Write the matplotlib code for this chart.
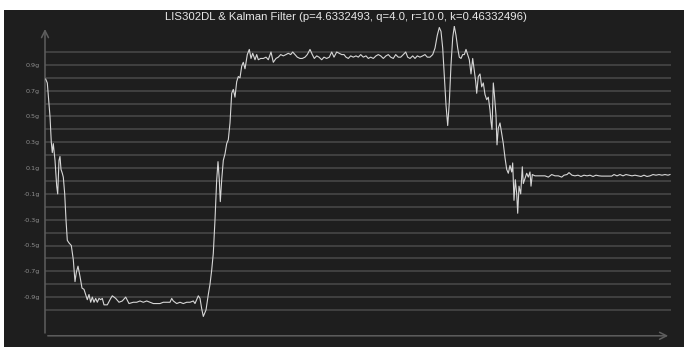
import matplotlib
matplotlib.use('Agg')
import matplotlib.pyplot as plt
from matplotlib.patches import Rectangle

# sample index and filtered accelerometer reading (g)
t = [0.7, 2.3, 5.0, 6.3, 7.3, 8.3, 10.0, 11.7, 12.7, 14.0, 15.0, 16.0, 17.3, 18.3,
     19.7, 21.0, 22.3, 24.0, 26.3, 28.3, 30.0, 31.3, 33.0, 35.0, 37.0, 39.0, 40.7,
     42.3, 44.0, 45.7, 47.3, 49.0, 50.7, 52.3, 54.0, 55.7, 57.3, 59.0, 62.3, 65.7,
     67.3, 70.7, 74.0, 77.3, 80.7, 84.0, 88.3, 91.7, 95.0, 98.3, 101.7, 105.0,
     108.3, 111.7, 115.0, 118.3, 121.7, 125.0, 126.7, 128.3, 131.7, 135.0, 138.3,
     141.7, 145.0, 148.3, 150.0, 153.3, 155.0, 156.7, 158.3, 161.0, 163.3, 165.0,
     166.7, 168.3, 170.0, 171.7, 173.0, 174.3, 175.3, 176.7, 178.3, 180.0, 181.7,
     183.3, 185.0, 186.7, 188.3, 190.0, 191.7, 193.3, 195.0, 196.7, 198.3, 200.0,
     202.3, 204.3, 206.0, 207.7, 210.0, 211.7, 213.3, 215.7, 218.3, 221.0, 223.3,
     226.0, 228.3, 231.0, 233.3, 235.7, 238.3, 241.0, 243.3, 245.7, 247.7, 250.0,
     252.3, 255.0, 257.3, 260.0, 262.3, 265.0, 267.3, 269.3, 271.7, 274.0, 276.7,
     279.0, 281.7, 284.3, 286.7, 289.0, 291.7, 294.3, 296.7, 299.0, 301.0, 303.3,
     305.7, 308.3, 311.0, 313.3, 315.7, 318.3, 321.0, 323.3, 325.7, 328.3, 331.0,
     333.3, 335.7, 338.3, 341.0, 343.3, 345.7, 348.3, 350.7, 353.3, 355.7, 358.3,
     360.7, 362.7, 365.0, 367.7, 370.0, 372.3, 375.0, 377.7, 380.0, 382.3, 385.0,
     387.7, 390.0, 392.3, 394.3, 396.0, 397.7, 399.3, 401.0, 402.7, 404.3, 406.0,
     407.7, 409.3, 411.0, 412.7, 414.3, 416.0, 417.7, 419.3, 421.0, 422.7, 424.3,
     426.0, 427.7, 429.0, 430.7, 431.7, 433.3, 435.0, 436.7, 438.3, 440.0, 441.7,
     443.3, 445.0, 446.0, 447.0, 448.3, 449.3, 451.0, 452.0, 453.3, 455.0, 456.7,
     458.3, 460.0, 461.7, 463.3, 465.0, 466.7, 467.7, 469.0, 470.3, 471.7, 472.7,
     474.0, 475.7, 477.3, 478.3, 480.0, 481.7, 483.3, 485.0, 486.0, 487.3, 490.0,
     493.3, 496.7, 500.0, 503.3, 506.7, 510.0, 513.3, 516.7, 519.0, 522.0, 524.0,
     527.0, 530.0, 533.0, 536.0, 539.0, 542.0, 545.0, 548.0, 551.0, 554.0, 556.7,
     566.7, 569.0, 572.0, 575.0, 578.0, 581.0, 584.0, 587.0, 590.0, 593.0, 596.0,
     599.0, 602.0, 605.0, 608.0, 611.0, 614.0, 617.0, 620.0, 623.0, 625.0]
g = [0.79, 0.76, 0.50, 0.30, 0.22, 0.29, 0.16, -0.04, -0.10, 0.16, 0.19, 0.09, 0.06, 0.03,
     -0.10, -0.30, -0.46, -0.48, -0.50, -0.61, -0.78, -0.71, -0.66, -0.74, -0.83, -0.84, -0.88,
     -0.92, -0.88, -0.94, -0.90, -0.94, -0.91, -0.94, -0.91, -0.92, -0.91, -0.96, -0.96, -0.91,
     -0.89, -0.91, -0.94, -0.93, -0.90, -0.95, -0.94, -0.94, -0.93, -0.94, -0.93, -0.94,
     -0.95, -0.95, -0.95, -0.94, -0.94, -0.94, -0.91, -0.93, -0.95, -0.94, -0.95,
     -0.94, -0.94, -0.93, -0.95, -0.89, -0.91, -0.99, -1.05, -1.00, -0.88, -0.80,
     -0.69, -0.56, -0.30, 0.01, 0.15, 0.01, -0.16, 0.01, 0.16, 0.21, 0.29,
     0.32, 0.45, 0.68, 0.71, 0.65, 0.77, 0.81, 0.80, 0.89, 0.92, 0.87,
     0.98, 1.02, 0.95, 0.99, 0.94, 0.98, 0.94, 0.95, 0.95, 0.96, 0.94,
     1.00, 0.92, 0.95, 0.96, 0.98, 0.97, 0.98, 0.99, 0.98, 1.00, 0.98,
     0.96, 0.95, 0.95, 0.96, 0.98, 1.02, 0.98, 0.95, 0.97, 0.96, 0.94,
     0.96, 0.95, 0.96, 1.00, 0.96, 1.00, 0.99, 0.98, 0.98, 0.96, 0.95,
     0.97, 0.96, 0.97, 0.96, 0.98, 0.96, 0.97, 0.95, 0.96, 0.95, 0.97,
     0.98, 0.97, 0.95, 0.97, 0.98, 0.96, 0.95, 0.98, 0.96, 0.96, 0.98,
     1.00, 0.96, 0.95, 0.97, 0.95, 0.97, 0.96, 0.97, 0.98, 0.96, 0.96,
     0.98, 1.03, 1.13, 1.19, 1.16, 1.03, 0.82, 0.59, 0.43, 0.61, 0.90,
     1.11, 1.20, 1.13, 1.03, 0.96, 0.95, 0.98, 0.98, 1.02, 0.98, 0.94,
     0.83, 0.95, 0.87, 0.77, 0.68, 0.81, 0.83, 0.73, 0.76, 0.67, 0.63,
     0.65, 0.55, 0.46, 0.40, 0.76, 0.68, 0.51, 0.28, 0.41, 0.45, 0.37,
     0.29, 0.18, 0.09, 0.06, 0.12, 0.07, 0.14, -0.15, 0.01, -0.10, -0.25,
     -0.04, -0.10, 0.11, -0.02, 0.02, 0.06, 0.03, 0.07, -0.04, 0.05, 0.04,
     0.04, 0.04, 0.04, 0.03, 0.05, 0.04, 0.04, 0.03, 0.045, 0.05, 0.065,
     0.045, 0.04, 0.045, 0.035, 0.045, 0.04, 0.045, 0.035, 0.045, 0.04, 0.038,
     0.038, 0.05, 0.04, 0.05, 0.04, 0.05, 0.045, 0.04, 0.045, 0.04, 0.035,
     0.045, 0.035, 0.04, 0.05, 0.045, 0.05, 0.045, 0.05, 0.045, 0.05]

grid_levels = [round(-1.0 + 0.1 * i, 1) for i in range(21)]
labelled = [-0.9, -0.7, -0.5, -0.3, -0.1, 0.1, 0.3, 0.5, 0.7, 0.9]
title = 'LIS302DL & Kalman Filter (p=4.6332493, q=4.0, r=10.0, k=0.46332496)'

bg = '#1e1e1e'
W, H = 684, 347
fig = plt.figure(figsize=(W / 100, H / 100), dpi=100, facecolor='white')
fig.patches.append(Rectangle((4 / W, 0), 1, (H - 10) / H, transform=fig.transFigure,
                             facecolor=bg, edgecolor='none', zorder=-10))

ax = fig.add_axes([45 / W, 11.2 / H, 626 / W, 309.6 / H])
ax.patch.set_alpha(0)
ax.set_xlim(0, 626)
ax.set_ylim(-1.2, 1.2)

for lv in grid_levels:
    ax.axhline(lv, color='#4a4a4a', lw=1.1, zorder=1)

ax.set_yticks(labelled)
ax.set_yticklabels([f'{v:.1f}g' for v in labelled])
ax.tick_params(axis='y', length=0, pad=3.5, labelsize=4.6, labelcolor='#8e8e8e')
ax.set_xticks([])
for s in ax.spines.values():
    s.set_visible(False)

# axes with open arrow heads
arrow = dict(arrowstyle='->,head_width=0.25,head_length=0.5', color='#5e5e5e', lw=1.1)
ax.annotate('', xy=(0, 1), xytext=(0, 0), xycoords='axes fraction', arrowprops=arrow)
ax.annotate('', xy=(1, 0), xytext=(0, 0), xycoords='axes fraction', arrowprops=arrow)

ax.plot(t, g, color='#d6d6d6', lw=0.8, zorder=3)

fig.text(346 / W, (H - 17) / H, title, ha='center', va='center', color='#e8e8e8',
         fontsize=8.2, family='Liberation Sans')

fig.savefig('out.png', dpi=100, facecolor=fig.get_facecolor())
